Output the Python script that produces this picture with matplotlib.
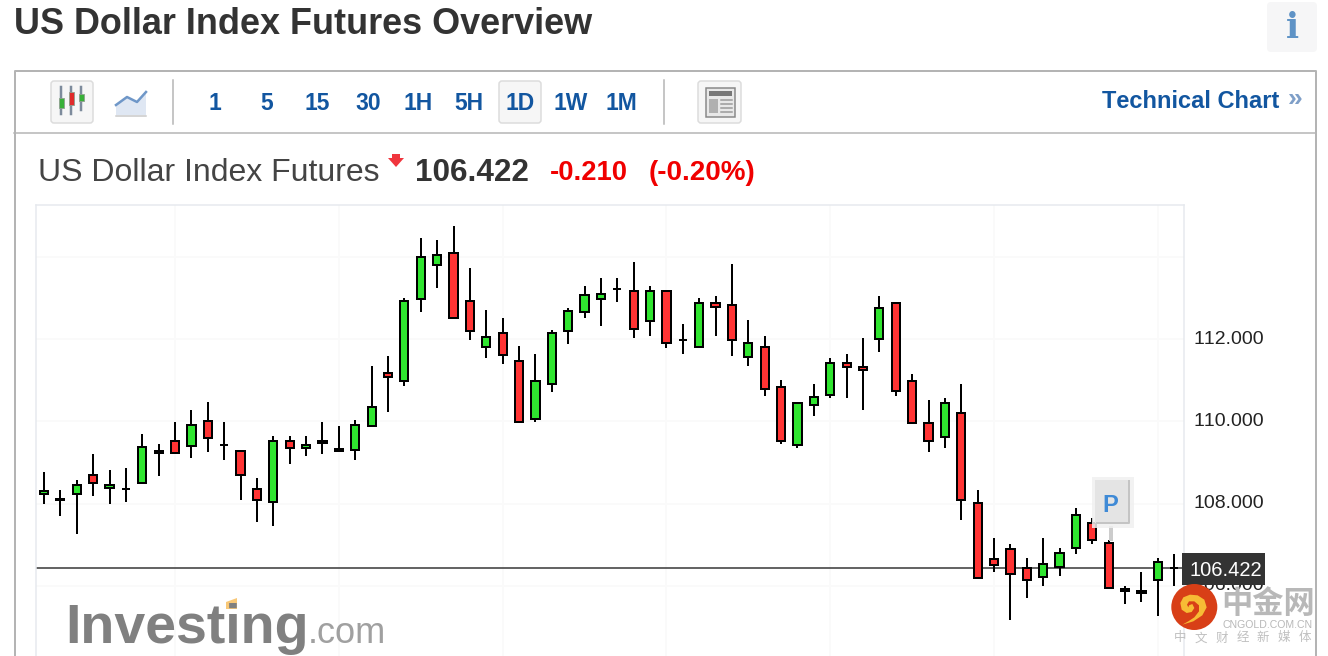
import matplotlib
matplotlib.use('Agg')
import matplotlib.pyplot as plt
from matplotlib.patches import Rectangle, FancyBboxPatch, Circle, Polygon
from matplotlib.transforms import ScaledTranslation

plt.rcParams['font.family'] = ['Liberation Sans', 'DejaVu Sans']
plt.rcParams['text.kerning_factor'] = 6

# daily candles
highs = [108.77, 108.33, 108.57, 109.20, 108.82, 108.86, 109.69, 109.45, 109.98, 110.27,
         110.47, 109.98, 109.30, 108.62, 109.64, 109.64, 109.64, 109.98, 109.89, 110.03,
         111.34, 111.59, 113.00, 114.46, 114.41, 114.75, 113.73, 112.71, 112.51, 111.83,
         111.64, 112.22, 112.75, 113.29, 113.48, 113.48, 113.87, 113.29, 113.18, 112.37,
         113.00, 113.05, 113.82, 112.46, 112.07, 111.00, 110.46, 110.91, 111.54, 111.64,
         112.03, 113.05, 112.89, 111.15, 110.52, 110.57, 110.91, 108.33, 107.16, 107.02,
         106.68, 107.16, 106.92, 107.89, 107.65, 107.11, 105.99, 106.33, 106.67, 106.77]
lows = [107.99, 107.70, 107.26, 108.18, 107.99, 108.04, 108.48, 108.67, 109.20, 109.11,
        109.25, 109.06, 108.09, 107.55, 107.45, 108.96, 109.16, 109.20, 109.25, 109.06,
        109.85, 110.23, 110.86, 112.66, 113.24, 112.48, 111.98, 111.54, 111.39, 109.95,
        109.98, 110.71, 111.88, 112.51, 112.32, 112.90, 112.02, 112.07, 111.78, 111.64,
        111.79, 112.07, 111.59, 111.34, 110.61, 109.45, 109.35, 110.13, 110.57, 110.57,
        110.27, 111.68, 110.61, 109.94, 109.25, 109.35, 107.60, 106.16, 106.33, 105.17,
        105.70, 105.99, 106.24, 106.77, 107.02, 105.91, 105.56, 105.61, 105.27, 105.99]
opens = [108.20, 108.13, 108.20, 108.71, 108.35, 108.38, 108.48, 109.30, 109.54, 109.37,
         110.02, 109.45, 109.30, 108.37, 108.01, 109.54, 109.32, 109.55, 109.35, 109.27,
         109.85, 111.19, 110.96, 112.96, 113.78, 114.11, 112.94, 111.79, 112.16, 111.48,
         110.04, 110.87, 112.18, 112.62, 112.96, 113.23, 113.18, 112.42, 113.18, 111.98,
         111.79, 112.89, 112.84, 111.55, 111.82, 110.85, 109.41, 110.38, 110.62, 111.43,
         111.34, 111.98, 112.89, 111.00, 109.97, 109.60, 110.22, 108.03, 106.67, 106.91,
         106.46, 106.20, 106.44, 106.89, 107.54, 107.06, 105.95, 105.90, 106.11, 106.43]
closes = [108.32, 108.05, 108.47, 108.48, 108.47, 108.34, 109.39, 109.20, 109.21, 109.93,
          109.56, 109.40, 108.68, 108.05, 109.54, 109.32, 109.44, 109.45, 109.25, 109.93,
          110.36, 111.06, 112.94, 114.01, 114.06, 112.48, 112.18, 112.07, 111.59, 109.95,
          111.00, 112.16, 112.70, 113.09, 113.13, 113.20, 112.23, 113.18, 111.89, 111.94,
          112.89, 112.76, 111.94, 111.92, 110.77, 109.50, 110.46, 110.61, 111.43, 111.30,
          111.21, 112.79, 110.72, 109.94, 109.50, 110.46, 108.05, 106.16, 106.49, 106.25,
          106.11, 106.56, 106.81, 107.74, 107.08, 105.91, 105.85, 105.80, 106.61, 106.41]

last_price = 106.422
y_ticks = [106, 108, 110, 112, 114]
y_tick_labels = ['106.000', '108.000', '110.000', '112.000', '']
x_grid = [8, 18, 28, 38, 48, 58, 68]
periods = ['1', '5', '15', '30', '1H', '5H', '1D', '1W', '1M']
period_x = [215, 267, 317, 368, 418, 469, 520, 571, 621]

W, H = 1328, 656
fig = plt.figure(figsize=(W / 100, H / 100), dpi=100, facecolor='white')

# page furniture, drawn in pixel coordinates
bg = fig.add_axes([0, 0, 1, 1], zorder=0)
bg.set_xlim(0, W)
bg.set_ylim(H, 0)
bg.axis('off')

BLUE = '#1256a0'
GREY = '#b4b4b4'
PX = 72 / 100

bg.text(14, 24, 'US Dollar Index Futures Overview', fontsize=25.9, fontweight='bold',
        color='#333333', va='center', ha='left')

bg.add_patch(FancyBboxPatch((1267, 2), 50, 50, boxstyle='round,pad=0,rounding_size=4',
                            fc='#f6f6f7', ec='none'))
bg.text(1292, 28, 'i', fontsize=25, fontweight='bold', family='DejaVu Serif',
        color='#5f93c6', ha='center', va='center')

# outer box and toolbar
bg.plot([14.5, 14.5, 1315.5, 1315.5], [H, 71, 71, H], color=GREY, lw=2 * PX)
bg.plot([14, 1316], [133, 133], color=GREY, lw=1.5 * PX)
for sx in [173, 664]:
    bg.plot([sx, sx], [80, 124], color=GREY, lw=1.5 * PX)


def button(x0, x1):
    bg.add_patch(FancyBboxPatch((x0, 81), x1 - x0, 42, boxstyle='round,pad=0,rounding_size=3',
                                fc='#f6f6f6', ec='#dcdcdc', lw=1.5 * PX))


button(51, 93)
button(499, 541)
button(698, 741)

# candlestick icon
for ix, c, w0, w1, t, b in [(61, '#38b038', 87, 114, 98, 108),
                            (71, '#e02a2a', 87, 114, 92, 105),
                            (81, '#38b038', 87, 110, 94, 101)]:
    bg.plot([ix, ix], [w0, w1], color='#7d8b9c', lw=2.5 * PX)
    bg.add_patch(Rectangle((ix - 2.5, t), 5, b - t, fc=c, ec='#8fa08f', lw=0.6, zorder=3))

# line icon
bg.add_patch(Polygon([(116, 115), (116, 105), (127, 97), (137, 102), (146, 92), (146, 115)],
                     fc='#dfe7f3', ec='none'))
bg.plot([116, 146], [115.5, 115.5], color='#c8c8c8', lw=1.5 * PX)
bg.plot([116, 127, 137, 146], [105, 97, 102, 92], color='#6f97c8', lw=2.5 * PX)

# news icon
bg.add_patch(Rectangle((706, 88), 29, 29, fc='#e8e8e8', ec='#888888', lw=1.5 * PX))
bg.add_patch(Rectangle((709, 91), 23, 5, fc='#777777', ec='none'))
bg.add_patch(Rectangle((709, 99), 9, 14, fc='#b0b0b0', ec='none'))
for ly in [100, 104, 108, 112]:
    bg.plot([721, 732], [ly, ly], color='#999999', lw=1.5 * PX)

for label, x in zip(periods, period_x):
    bg.text(x, 103.5, label, fontsize=16.5, fontweight='bold', color=BLUE, ha='center', va='center')

bg.text(1102, 102, 'Technical Chart', fontsize=17, fontweight='bold', color=BLUE,
        ha='left', va='center')
bg.text(1295, 99, '»', fontsize=19, fontweight='bold', color='#7f9fc8', ha='center', va='center')

# price header
bg.text(38, 173, 'US Dollar Index Futures', fontsize=23, color='#444444', ha='left', va='center')
bg.add_patch(Polygon([(392, 154), (400, 154), (400, 158), (404, 158), (396, 167), (388, 158), (392, 158)],
                     fc='#f0353d', ec='none'))
bg.text(415, 173, '106.422', fontsize=22.7, fontweight='bold', color='#333333', ha='left', va='center')
bg.text(550, 173, '-0.210', fontsize=19.7, fontweight='bold', color='#f00000', ha='left', va='center')
bg.text(649, 173, '(-0.20%)', fontsize=20, fontweight='bold', color='#f00000', ha='left', va='center')

# the chart itself
ax = fig.add_axes([36 / W, 0, (1184 - 36) / W, (H - 205) / H], zorder=1)
ax.patch.set_alpha(0)
ax.set_xlim((36 - 44) / 16.38, (1184 - 44) / 16.38)
ax.set_ylim(112 - (H - 339) / 41.13, 112 + (339 - 205) / 41.13)
ax.spines['bottom'].set_visible(False)
for side in ['top', 'left', 'right']:
    ax.spines[side].set_color('#e6e9ee')
    ax.spines[side].set_linewidth(1.5 * PX)
ax.set_xticks([])
ax.yaxis.tick_right()
ax.set_yticks(y_ticks)
ax.set_yticklabels(y_tick_labels, fontsize=14, color='#222222')
ax.tick_params(axis='y', length=0, pad=6.8)
nudge = ScaledTranslation(0, 2 / 100, fig.dpi_scale_trans)
for lab in ax.get_yticklabels():
    lab.set_transform(lab.get_transform() + nudge)
for v in y_ticks:
    ax.axhline(v, color='#fafafa', lw=2 * PX, zorder=1)
for v in x_grid:
    ax.axvline(v, color='#fafafa', lw=2 * PX, zorder=1)

ax.axhline(last_price, color='#333333', lw=1.5 * PX, zorder=2)

px_y = 1 / 41.13  # one pixel in price units
body_w = 8.2 / 16.38
for i in range(len(opens)):
    top = max(opens[i], closes[i])
    bot = min(opens[i], closes[i])
    colour = '#2fe52f' if closes[i] >= opens[i] else '#ff3333'
    ax.plot([i, i], [lows[i], highs[i]], color='black', lw=2 * PX, solid_capstyle='butt', zorder=3)
    # bodies were read to the outer edge of the black border
    h = max(top - bot - 2 * px_y, 0)
    ax.add_patch(Rectangle((i - body_w / 2, bot + px_y), body_w, h, fc=colour, ec='black',
                           lw=2 * PX, zorder=4))

# overlay: price flag, P marker, watermarks
top = fig.add_axes([0, 0, 1, 1], zorder=2)
top.set_xlim(0, W)
top.set_ylim(H, 0)
top.axis('off')
top.patch.set_alpha(0)

top.add_patch(Rectangle((1182, 553), 83, 32, fc='#333333', ec='none'))
top.text(1226, 571, '106.422', fontsize=14.5, color='white', ha='center', va='center')

top.add_patch(Rectangle((1109, 526), 4, 15, fc='#cccccc', ec='none'))
top.add_patch(Rectangle((1092, 477), 42, 51, fc='#f0f0f0', ec='none', alpha=0.85))
top.add_patch(Rectangle((1095, 480), 34, 43, fc='#e4e4e4', ec='none'))
top.plot([1129, 1129, 1097], [481, 523, 523], color='#c4c4c4', lw=2 * PX)
top.text(1110, 505.5, 'P', fontsize=17, fontweight='bold', color='#3f8ad6', ha='center', va='center')

# Investing.com mark
top.text(65, 643, 'Investing', fontsize=40, fontweight='bold', color='#808080', ha='left', va='baseline')
top.text(308, 643, '.com', fontsize=26, color='#a0a0a0', ha='left', va='baseline')
top.add_patch(Polygon([(226, 602), (237, 598), (237, 609), (226, 609)], fc='#f8c878', ec='none'))

# cngold mark
top.add_patch(Circle((1194.3, 607), 23, fc='#d83f17', ec='none'))
swirl = [(52, 140), (85, 130), (112, 112), (125, 88), (118, 65), (98, 52), (75, 50), (55, 58),
         (46, 75), (50, 95), (65, 105), (80, 102), (88, 90), (82, 78), (72, 82), (70, 88),
         (66, 80), (72, 70), (88, 70), (102, 82), (102, 100), (88, 118), (70, 130)]
top.add_patch(Polygon([(1165 + a / 3, 578 + b / 3) for a, b in swirl], fc='#f7bc35', ec='none'))
cjk = ['Noto Sans CJK SC', 'DejaVu Sans']
top.text(1268, 604, '中金网', fontsize=22.5, fontweight='bold', family=cjk, color='#b8b8b8',
         ha='center', va='center')
top.text(1268, 625, 'CNGOLD.COM.CN', fontsize=7.6, color='#b8b8b8', ha='center', va='center')
for k, ch in enumerate('中文财经新媒体'):
    top.text(1180 + k * 20.8, 638, ch, fontsize=9, family=cjk, color='#c0c0c0', ha='center', va='center')

fig.savefig('out.png', dpi=100)
